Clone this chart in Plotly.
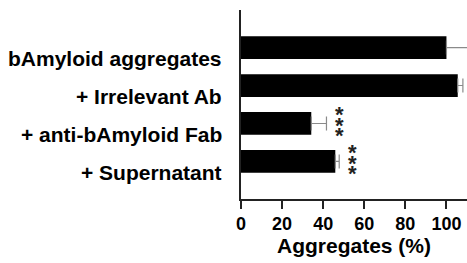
import plotly.graph_objects as go

categories = ["bAmyloid aggregates", "+ Irrelevant Ab", "+ anti-bAmyloid Fab", "+ Supernatant"]
values = [100, 105.5, 34.2, 45.9]
errors = [10.5, 2.5, 7.4, 1.9]
significance = ["", "", "***", "***"]
x_ticks = [0, 20, 40, 60, 80, 100]
x_title = "Aggregates (%)"

FONT = "Liberation Sans, Arial, sans-serif"

fig = go.Figure()
fig.add_trace(go.Bar(
    y=categories, x=values, orientation="h",
    marker=dict(color="black", line=dict(width=0)),
    width=0.6,
    error_x=dict(type="data", array=errors, arrayminus=[0]*len(errors), symmetric=False,
                 color="#8a8a8a", thickness=1.2, width=7),
    showlegend=False,
))

annotations = []
for i, cat in enumerate(categories):
    annotations.append(dict(
        xref="paper", yref="y", x=0, y=cat, xanchor="right", yanchor="middle",
        xshift=-17, yshift=-11, text="<b>%s</b>" % cat, showarrow=False,
        font=dict(family=FONT, size=21, color="black"),
    ))
    sig = significance[i]
    if sig:
        star_text = "<br>".join("<span style='font-size:22px'><b>%s</b></span>" % ch for ch in sig)
        annotations.append(dict(
            xref="x", yref="y", x=values[i] + errors[i] + 6.5, y=cat,
            xanchor="center", yanchor="middle",
            yshift=-2, text=star_text, showarrow=False,
            font=dict(family=FONT, size=8.2, color="#222"),
        ))

fig.update_layout(
    width=467, height=263,
    margin=dict(l=241, r=0, t=10, b=64, autoexpand=False),
    paper_bgcolor="white", plot_bgcolor="white",
    bargap=0.4,
    annotations=annotations,
    xaxis=dict(
        range=[0, 110], tickvals=x_ticks, ticks="outside", ticklen=8, tickwidth=1.5,
        tickcolor="#222", showline=True, linecolor="#222", linewidth=1.5,
        showgrid=False, zeroline=False, automargin=False,
        tickfont=dict(family=FONT, size=18, color="black", weight="bold"),
        title=dict(text="<b>%s</b>" % x_title, font=dict(family=FONT, size=21, color="black"), standoff=2),
    ),
    yaxis=dict(
        range=[3.99, -0.99], showticklabels=False, ticks="", showline=True,
        linecolor="#222", linewidth=1.5, showgrid=False, zeroline=False, automargin=False,
    ),
)

fig.write_html(
    "out.html",
    config={"displayModeBar": False},
    post_script="document.body.style.margin='0';document.body.style.overflow='hidden';",
)
